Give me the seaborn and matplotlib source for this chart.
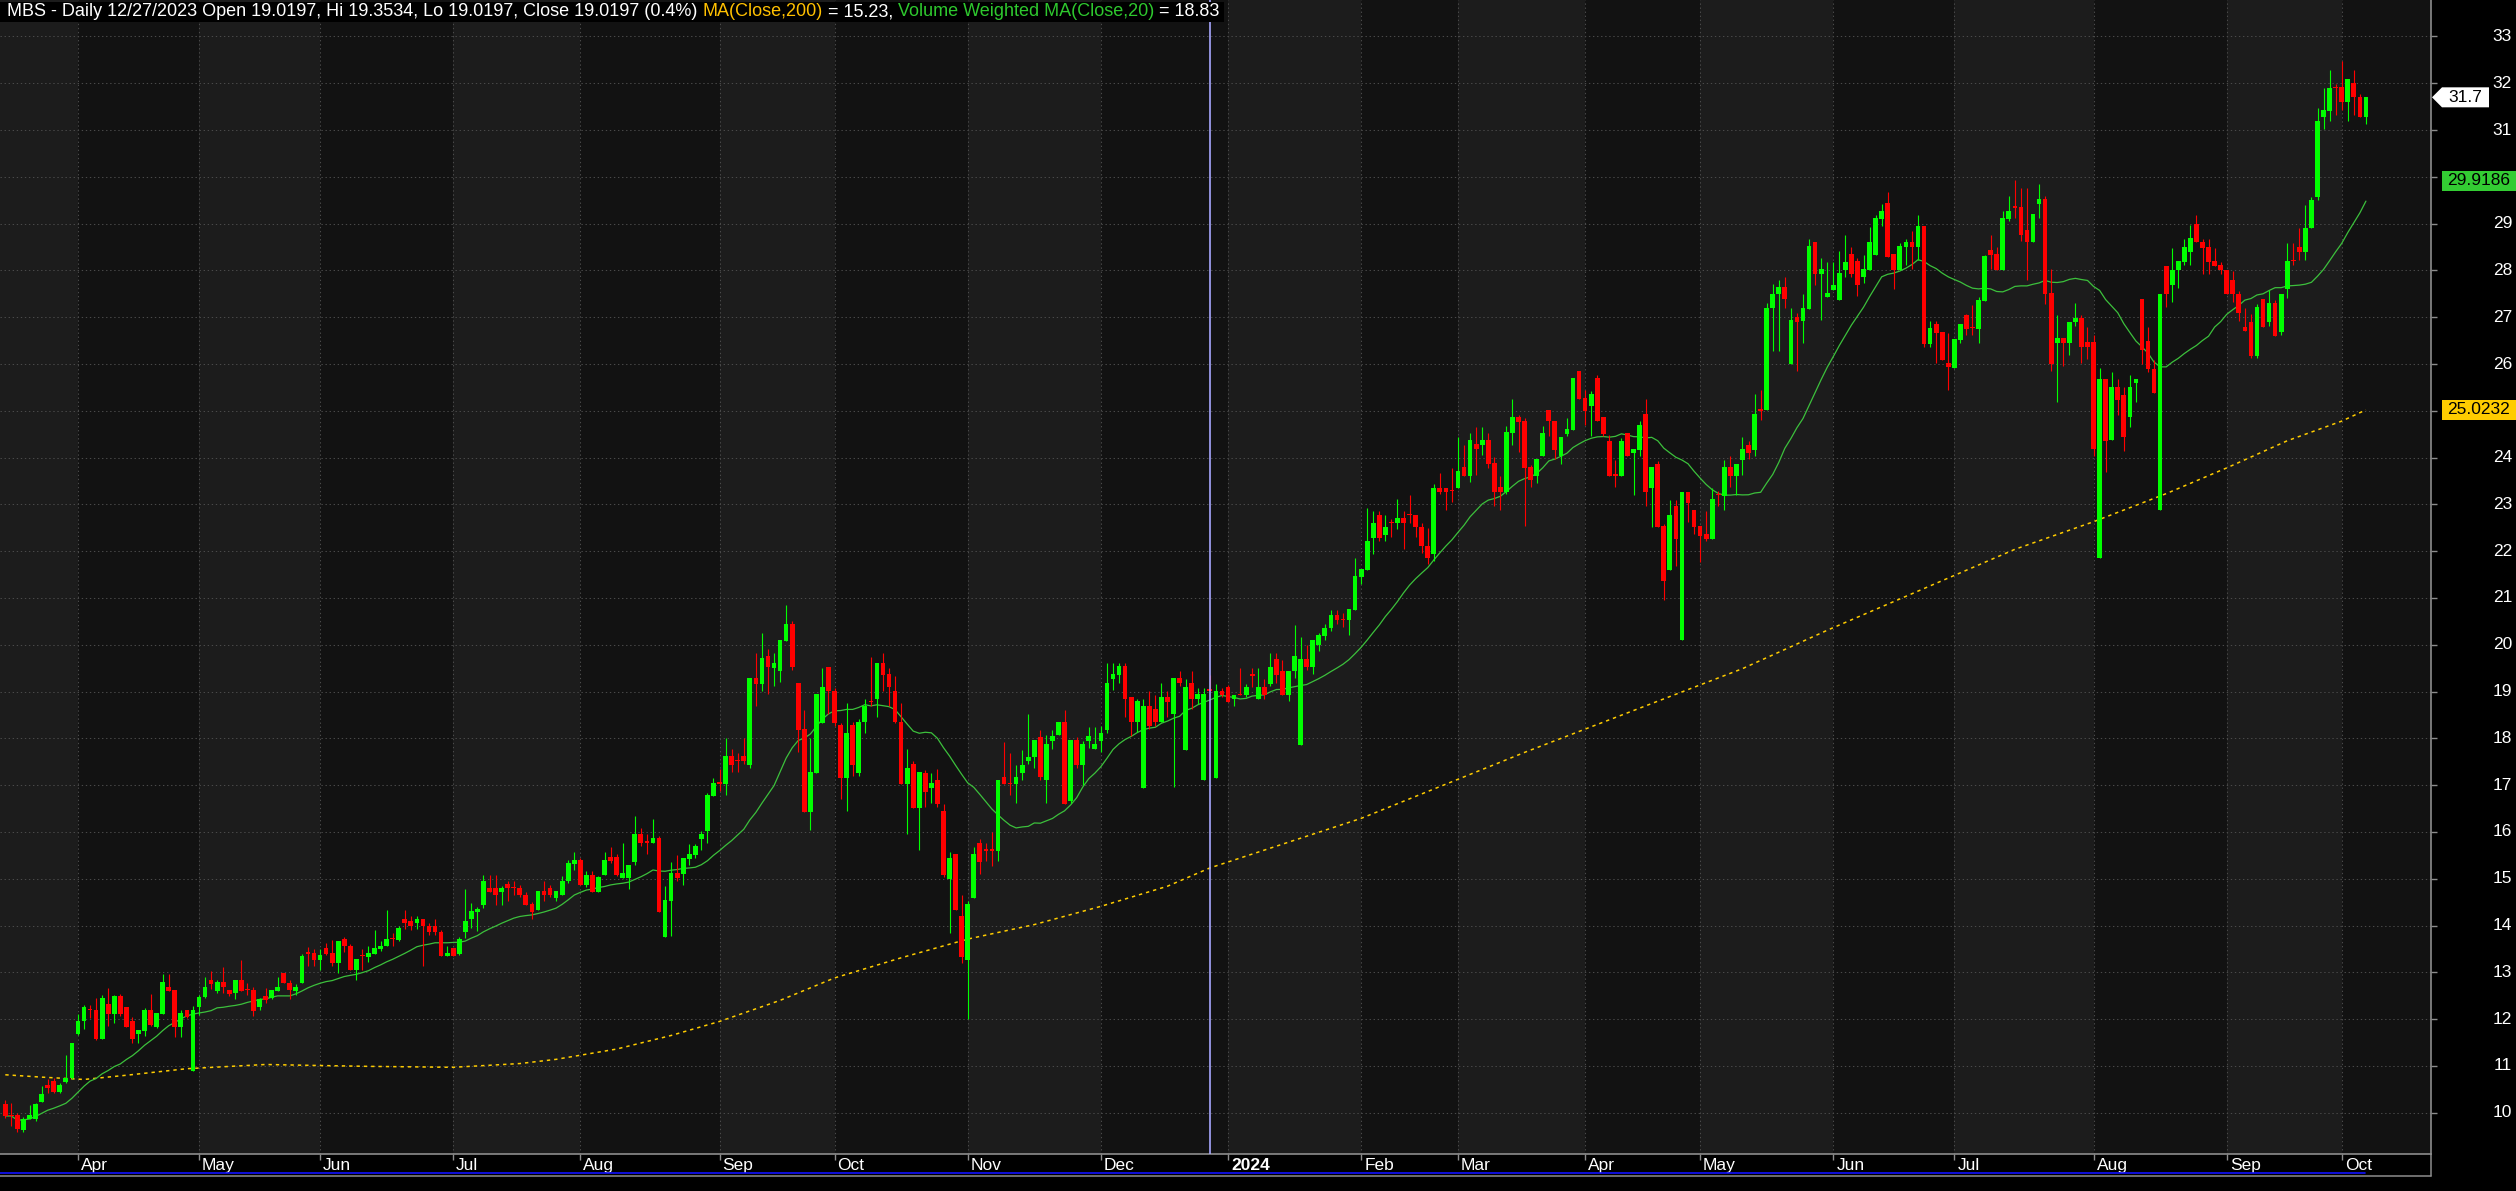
import numpy as np
import pandas as pd
import seaborn as sns
import matplotlib.pyplot as plt
from matplotlib.lines import Line2D
from matplotlib.patches import Rectangle, Polygon
from matplotlib.transforms import blended_transform_factory, offset_copy

W, H, DPI = 2516, 1191, 100

# daily OHLC, one value per bar (bar 0 = mid March 2023, bar 390 = early Oct 2024)
opens = [
    10.18, 9.95, 9.94, 9.64, 9.86, 9.86, 10.23, 10.60, 10.67, 10.44,
    10.65, 10.75, 11.68, 11.95, 12.20, 12.20, 11.58, 12.33, 12.10, 12.49,
    12.26, 11.97, 11.68, 11.74, 12.20, 11.83, 12.10, 12.69, 12.63, 11.83,
    12.20, 10.89, 12.25, 12.47, 12.84, 12.61, 12.79, 12.63, 12.56, 12.84,
    12.63, 12.63, 12.25, 12.49, 12.45, 12.61, 12.99, 12.77, 12.61, 12.77,
    13.41, 13.41, 13.27, 13.51, 13.42, 13.19, 13.72, 13.57, 13.04, 13.36,
    13.33, 13.40, 13.49, 13.56, 13.72, 13.70, 14.15, 14.09, 14.06, 14.15,
    13.99, 13.99, 13.87, 13.34, 13.51, 13.40, 13.86, 14.13, 14.29, 14.43,
    14.81, 14.81, 14.71, 14.88, 14.81, 14.81, 14.66, 14.45, 14.34, 14.73,
    14.81, 14.58, 14.65, 14.95, 15.31, 15.39, 14.86, 15.09, 14.71, 15.08,
    15.46, 15.46, 15.01, 15.01, 15.35, 15.95, 15.78, 15.76, 15.87, 13.76,
    14.53, 15.12, 15.10, 15.43, 15.50, 15.85, 16.02, 16.77, 17.04, 17.02,
    17.62, 17.52, 17.62, 17.43, 19.28, 19.17, 19.77, 19.51, 19.43, 20.09,
    20.45, 19.19, 18.19, 16.43, 17.25, 18.33, 19.53, 19.02, 18.28, 17.16,
    18.28, 17.25, 18.35, 18.79, 18.85, 19.61, 19.37, 19.02, 18.36, 17.02,
    17.45, 16.51, 17.27, 16.93, 17.12, 16.44, 15.00, 15.52, 14.20, 13.26,
    14.59, 15.77, 15.61, 15.61, 15.59, 17.18, 17.03, 17.02, 17.26, 17.51,
    17.60, 18.03, 17.10, 17.94, 18.08, 18.36, 16.67, 17.96, 17.43, 17.94,
    17.78, 17.94, 18.18, 19.26, 19.35, 19.55, 18.88, 18.35, 16.93, 18.70,
    18.62, 18.35, 18.88, 18.51, 19.28, 17.76, 19.19, 18.85, 17.11, 19.0197,
    17.16, 19.02, 19.10, 18.84, 18.93, 18.92, 19.35, 18.85, 19.10, 19.17,
    19.70, 19.45, 18.92, 19.43, 17.85, 19.70, 19.52, 20.00, 20.18, 20.35,
    20.63, 20.54, 20.53, 20.75, 21.45, 21.60, 22.28, 22.78, 22.34, 22.61,
    22.60, 22.70, 22.78, 22.78, 22.52, 22.12, 21.93, 23.36, 23.36, 23.29,
    23.35, 23.79, 23.61, 24.29, 24.27, 24.37, 23.88, 23.37, 23.27, 24.52,
    24.87, 24.79, 23.79, 23.60, 24.03, 25.02, 24.79, 24.03, 24.51, 24.60,
    25.86, 25.28, 25.10, 25.71, 24.87, 24.36, 23.62, 23.60, 24.53, 24.09,
    24.17, 24.94, 23.35, 23.87, 22.53, 21.59, 22.96, 20.10, 23.27, 22.87,
    22.53, 22.36, 22.27, 23.21, 23.19, 23.79, 23.60, 23.94, 24.28, 24.17,
    25.01, 25.01, 27.20, 27.50, 27.65, 26.01, 27.00, 26.93, 27.18, 28.61,
    27.93, 27.44, 27.59, 27.36, 28.01, 28.35, 28.21, 27.86, 28.01, 28.34,
    29.11, 29.44, 28.35, 28.01, 28.50, 28.61, 28.50, 28.96, 26.43, 26.86,
    26.69, 26.02, 25.92, 26.52, 27.04, 26.77, 26.75, 27.35, 28.44, 28.36,
    28.01, 29.11, 29.35, 29.36, 28.87, 28.60, 29.43, 29.53, 27.52, 26.46,
    26.55, 26.46, 26.89, 26.98, 26.47, 26.47, 21.85, 25.68, 24.37, 25.51,
    25.34, 24.87, 25.59, 27.40, 26.49, 25.89, 22.88, 28.10, 27.68, 28.00,
    28.19, 28.39, 29.00, 28.61, 28.51, 28.21, 28.11, 28.02, 27.80, 27.50,
    26.80, 26.90, 26.18, 27.40, 26.90, 27.30, 26.69, 27.60, 28.21, 28.51,
    28.39, 28.90, 29.58, 31.29, 31.40, 31.91, 31.91, 31.60, 32.01, 31.71,
    31.29,
]
highs = [
    10.28, 10.21, 10.00, 9.91, 10.16, 10.21, 10.58, 10.72, 10.75, 10.64,
    11.24, 11.48, 12.10, 12.31, 12.31, 12.45, 12.52, 12.67, 12.52, 12.54,
    12.26, 12.05, 11.76, 12.24, 12.54, 12.12, 12.97, 12.97, 12.63, 12.20,
    12.20, 12.29, 12.52, 12.90, 13.02, 12.84, 13.11, 12.63, 12.84, 13.27,
    12.77, 12.69, 12.46, 12.66, 12.63, 12.90, 12.99, 12.84, 12.74, 13.40,
    13.54, 13.49, 13.49, 13.63, 13.70, 13.66, 13.76, 13.60, 13.29, 13.49,
    13.56, 13.91, 13.66, 14.34, 13.84, 13.99, 14.34, 14.21, 14.21, 14.15,
    14.05, 14.13, 13.91, 13.56, 13.51, 13.76, 14.79, 14.49, 14.40, 15.07,
    15.07, 15.07, 14.85, 14.95, 14.95, 14.86, 14.71, 14.50, 14.73, 14.95,
    14.86, 14.73, 15.05, 15.39, 15.58, 15.44, 15.16, 15.16, 15.06, 15.58,
    15.67, 15.52, 15.76, 15.29, 16.34, 16.09, 15.96, 16.27, 15.92, 14.85,
    15.35, 15.50, 15.45, 15.75, 15.75, 16.01, 16.84, 17.16, 17.34, 18.01,
    17.77, 17.68, 18.01, 19.28, 19.83, 20.25, 19.91, 19.83, 20.11, 20.84,
    20.50, 19.19, 18.60, 18.01, 18.94, 19.51, 19.53, 19.08, 18.32, 18.76,
    18.34, 18.42, 18.85, 19.74, 19.61, 19.83, 19.51, 19.34, 18.76, 17.77,
    17.51, 17.28, 17.33, 17.25, 17.34, 16.59, 15.58, 15.52, 14.66, 14.52,
    15.67, 15.84, 15.76, 16.00, 17.12, 17.93, 17.68, 17.42, 17.76, 18.51,
    17.96, 18.17, 18.08, 18.17, 18.36, 18.60, 17.96, 18.03, 17.94, 18.25,
    18.25, 18.26, 19.60, 19.60, 19.60, 19.60, 18.88, 18.85, 18.85, 19.01,
    18.92, 19.18, 19.01, 19.28, 19.44, 19.26, 19.44, 19.08, 19.08, 19.3534,
    19.17, 19.08, 19.15, 18.92, 19.51, 19.17, 19.51, 19.51, 19.26, 19.83,
    19.83, 19.68, 19.45, 20.43, 20.17, 20.00, 20.11, 20.25, 20.45, 20.75,
    20.75, 20.67, 20.77, 21.85, 21.61, 22.93, 22.85, 22.85, 22.77, 22.68,
    23.11, 22.85, 23.20, 22.78, 22.60, 22.50, 23.43, 23.68, 23.36, 23.77,
    24.43, 24.27, 24.52, 24.65, 24.65, 24.52, 24.02, 23.61, 24.68, 25.25,
    24.92, 24.85, 23.85, 23.96, 24.68, 25.02, 24.79, 24.44, 24.85, 25.71,
    25.86, 25.44, 25.42, 25.77, 24.87, 24.49, 23.94, 24.42, 24.53, 24.19,
    24.78, 25.25, 23.79, 23.92, 22.59, 23.10, 23.10, 23.27, 23.27, 22.87,
    22.53, 22.85, 23.34, 23.28, 23.94, 24.03, 23.87, 24.43, 24.35, 25.35,
    25.44, 27.30, 27.70, 27.80, 27.85, 27.20, 27.10, 27.50, 28.68, 28.61,
    28.26, 28.19, 28.19, 28.42, 28.76, 28.50, 28.26, 28.34, 28.93, 29.19,
    29.43, 29.68, 28.35, 28.58, 28.68, 28.85, 29.19, 28.96, 26.91, 26.91,
    26.69, 26.67, 26.54, 26.86, 27.07, 27.27, 27.44, 28.34, 28.76, 28.50,
    29.26, 29.60, 29.94, 29.76, 29.76, 29.21, 29.85, 29.60, 28.03, 27.05,
    26.55, 26.89, 27.30, 27.05, 26.80, 26.62, 25.91, 25.68, 25.84, 25.68,
    25.50, 25.76, 25.68, 27.40, 26.79, 26.09, 27.50, 28.10, 28.48, 28.21,
    28.68, 28.98, 29.19, 28.68, 28.68, 28.49, 28.19, 28.02, 27.99, 27.57,
    27.19, 27.07, 27.28, 27.40, 27.58, 27.36, 27.50, 28.59, 28.59, 28.90,
    29.39, 29.58, 31.48, 31.89, 32.29, 31.99, 32.48, 32.10, 32.29, 31.78,
    31.71,
]
lows = [
    9.89, 9.72, 9.59, 9.59, 9.86, 9.82, 10.23, 10.41, 10.43, 10.41,
    10.64, 10.73, 11.65, 11.78, 12.03, 11.55, 11.58, 11.85, 11.92, 12.06,
    11.83, 11.49, 11.49, 11.63, 11.85, 11.81, 12.10, 12.60, 11.62, 11.62,
    12.03, 10.89, 12.08, 12.45, 12.64, 12.56, 12.56, 12.49, 12.42, 12.61,
    12.52, 12.06, 12.20, 12.35, 12.42, 12.61, 12.77, 12.42, 12.52, 12.77,
    13.14, 13.14, 13.06, 13.36, 13.14, 12.99, 13.43, 13.04, 12.84, 13.06,
    13.21, 13.40, 13.46, 13.56, 13.57, 13.66, 13.93, 13.91, 13.93, 13.14,
    13.79, 13.79, 13.34, 13.34, 13.34, 13.36, 13.74, 13.94, 13.88, 14.38,
    14.71, 14.44, 14.44, 14.52, 14.66, 14.62, 14.44, 14.15, 14.34, 14.52,
    14.62, 14.52, 14.65, 14.90, 15.19, 14.86, 14.83, 14.71, 14.71, 15.08,
    15.33, 15.06, 15.01, 14.78, 15.29, 15.71, 15.52, 15.76, 14.28, 13.76,
    13.78, 14.96, 14.86, 15.29, 15.45, 15.61, 15.77, 16.77, 16.88, 16.78,
    17.28, 17.28, 17.46, 17.36, 18.70, 19.02, 18.94, 19.12, 19.20, 20.09,
    19.46, 17.71, 16.43, 16.04, 17.25, 18.33, 18.51, 18.26, 16.70, 16.45,
    17.20, 17.20, 18.11, 18.70, 18.46, 19.02, 18.70, 18.33, 17.02, 15.95,
    16.51, 15.62, 16.53, 16.61, 16.53, 15.04, 13.85, 14.34, 13.20, 12.00,
    14.59, 15.11, 15.38, 15.28, 15.37, 17.02, 16.79, 16.61, 17.12, 17.46,
    17.36, 17.12, 16.62, 17.78, 18.08, 16.59, 16.62, 17.36, 17.01, 17.80,
    17.78, 17.71, 18.12, 19.03, 19.19, 18.46, 18.05, 18.13, 16.93, 18.19,
    18.26, 18.35, 18.46, 16.96, 19.12, 17.76, 18.62, 18.73, 17.11, 19.0197,
    17.16, 18.88, 18.77, 18.70, 18.92, 18.88, 19.10, 18.85, 18.84, 19.11,
    19.18, 18.92, 18.79, 19.29, 17.85, 19.47, 19.38, 19.86, 20.11, 20.29,
    20.45, 20.38, 20.20, 20.75, 21.29, 21.60, 21.95, 22.22, 22.22, 22.31,
    22.47, 22.05, 22.61, 22.31, 21.97, 21.72, 21.79, 23.22, 22.88, 23.05,
    23.35, 23.61, 23.47, 23.62, 24.05, 23.77, 22.97, 22.88, 23.22, 24.28,
    24.11, 22.53, 23.37, 23.46, 24.03, 24.46, 23.96, 23.87, 24.46, 24.60,
    25.26, 24.70, 24.46, 24.78, 24.46, 23.60, 23.37, 23.60, 24.03, 23.21,
    24.04, 22.96, 22.52, 22.51, 20.95, 21.59, 21.69, 20.10, 22.62, 22.36,
    21.77, 22.21, 22.27, 22.96, 22.88, 23.37, 23.21, 23.62, 23.97, 24.04,
    24.80, 25.01, 26.28, 26.28, 27.20, 26.01, 25.86, 26.46, 27.18, 27.69,
    26.94, 27.44, 27.59, 27.36, 27.87, 27.87, 27.46, 27.73, 28.01, 28.34,
    28.96, 28.28, 27.61, 28.01, 28.12, 28.03, 28.23, 26.37, 26.37, 26.03,
    26.09, 25.45, 25.92, 26.46, 26.62, 26.62, 26.46, 27.35, 28.03, 28.01,
    28.01, 29.05, 29.12, 28.62, 27.80, 28.60, 29.12, 27.29, 25.86, 25.18,
    25.95, 26.20, 26.82, 26.03, 26.10, 24.03, 21.85, 23.70, 24.37, 24.91,
    24.14, 24.65, 25.19, 26.01, 25.83, 25.39, 22.88, 27.21, 27.32, 27.62,
    28.11, 28.11, 28.61, 27.93, 27.93, 28.09, 27.93, 27.49, 27.32, 26.91,
    26.70, 26.12, 26.12, 26.79, 26.81, 26.60, 26.62, 27.41, 28.11, 28.22,
    28.22, 28.90, 29.51, 31.02, 31.20, 31.32, 31.43, 31.20, 31.32, 31.29,
    31.12,
]
closes = [
    9.93, 9.93, 9.66, 9.87, 9.94, 10.18, 10.39, 10.52, 10.44, 10.60,
    10.75, 11.48, 11.97, 12.26, 12.19, 11.58, 12.45, 12.10, 12.49, 12.10,
    11.83, 11.58, 11.76, 12.20, 11.88, 12.12, 12.79, 12.61, 11.83, 12.12,
    12.05, 12.20, 12.47, 12.69, 12.76, 12.79, 12.69, 12.54, 12.84, 12.61,
    12.62, 12.18, 12.42, 12.40, 12.63, 12.69, 12.77, 12.62, 12.69, 13.35,
    13.40, 13.27, 13.36, 13.40, 13.19, 13.66, 13.56, 13.04, 13.29, 13.35,
    13.42, 13.51, 13.57, 13.72, 13.71, 13.94, 14.06, 13.99, 14.15, 13.99,
    13.86, 13.86, 13.34, 13.42, 13.34, 13.72, 14.09, 14.30, 14.36, 14.96,
    14.71, 14.65, 14.81, 14.80, 14.80, 14.65, 14.44, 14.29, 14.73, 14.65,
    14.65, 14.73, 14.96, 15.34, 15.39, 14.86, 15.09, 14.71, 15.03, 15.39,
    15.38, 15.07, 15.12, 15.29, 15.95, 15.76, 15.77, 15.87, 14.28, 14.54,
    15.12, 15.01, 15.45, 15.52, 15.70, 15.95, 16.78, 17.04, 17.03, 17.62,
    17.43, 17.51, 17.52, 19.28, 19.17, 19.71, 19.52, 19.62, 20.11, 20.45,
    19.52, 18.18, 16.43, 17.28, 18.94, 19.10, 19.01, 18.33, 17.16, 18.11,
    17.42, 18.36, 18.70, 18.77, 19.61, 19.35, 19.10, 18.35, 17.02, 17.36,
    16.51, 17.28, 16.85, 17.04, 16.59, 15.09, 15.45, 14.34, 13.33, 14.45,
    15.52, 15.35, 15.60, 15.60, 17.12, 17.02, 17.02, 17.18, 17.44, 17.61,
    17.96, 17.17, 17.87, 18.05, 18.36, 16.59, 17.96, 17.43, 17.87, 18.05,
    17.87, 18.11, 19.19, 19.37, 19.55, 18.85, 18.35, 18.80, 18.70, 18.26,
    18.35, 18.88, 18.78, 19.28, 19.19, 19.10, 18.85, 18.94, 18.94, 19.0197,
    19.02, 18.92, 18.77, 18.92, 18.92, 19.10, 19.34, 19.10, 18.92, 19.53,
    19.36, 18.92, 19.45, 19.77, 19.70, 19.52, 20.11, 20.20, 20.36, 20.63,
    20.53, 20.53, 20.77, 21.47, 21.61, 22.21, 22.61, 22.28, 22.52, 22.60,
    22.70, 22.60, 22.77, 22.52, 22.11, 21.85, 23.36, 23.27, 23.27, 23.28,
    23.71, 23.61, 24.37, 24.18, 24.37, 23.86, 23.27, 23.27, 24.55, 24.87,
    24.77, 23.77, 23.52, 23.96, 24.53, 24.78, 24.17, 24.44, 24.61, 25.71,
    25.26, 25.00, 25.37, 24.78, 24.51, 23.60, 23.61, 24.36, 24.03, 24.19,
    24.70, 23.26, 23.79, 22.51, 21.36, 22.78, 22.27, 23.27, 23.02, 22.51,
    22.33, 22.27, 23.12, 23.20, 23.79, 23.60, 23.87, 24.19, 24.09, 24.94,
    25.00, 27.20, 27.50, 27.65, 27.40, 26.95, 26.90, 27.20, 28.53, 27.93,
    28.04, 27.51, 27.69, 27.94, 28.19, 27.93, 27.68, 28.03, 28.61, 29.13,
    29.28, 28.28, 28.01, 28.53, 28.61, 28.51, 28.96, 26.43, 26.77, 26.67,
    26.09, 25.93, 26.54, 26.86, 26.75, 26.76, 27.37, 28.30, 28.34, 28.01,
    29.13, 29.28, 29.34, 28.76, 28.60, 29.21, 29.53, 27.50, 26.00, 26.55,
    26.46, 26.89, 26.98, 26.36, 26.36, 24.19, 25.68, 24.36, 25.51, 25.24,
    24.45, 25.51, 25.68, 26.29, 25.89, 25.39, 27.50, 27.49, 28.01, 28.21,
    28.51, 28.70, 28.61, 28.49, 28.19, 28.09, 28.00, 27.49, 27.49, 27.08,
    26.70, 26.18, 27.21, 26.79, 27.30, 26.60, 27.50, 28.21, 28.20, 28.39,
    28.91, 29.51, 31.20, 31.42, 31.90, 31.90, 31.60, 32.10, 31.71, 31.29,
    31.71,
]

# first bar of every month and its axis label
month_starts = [12, 32, 52, 74, 95, 118, 137, 159, 181, 202, 224, 240,
                261, 280, 302, 322, 345, 367, 386]
month_labels = ["Apr", "May", "Jun", "Jul", "Aug", "Sep", "Oct", "Nov", "Dec",
                "2024", "Feb", "Mar", "Apr", "May", "Jun", "Jul", "Aug", "Sep", "Oct"]

# MA(Close,200)
ma200_bars = [0, 6, 13, 20, 30, 43, 51, 60, 74, 85, 91, 101, 110, 118, 128, 137,
              148, 159, 170, 181, 192, 199, 224, 251, 287, 301, 332, 345, 357,
              367, 377, 386, 390]
ma200_vals = [10.81, 10.76, 10.71, 10.80, 10.94, 11.03, 11.01, 10.99, 10.97, 11.05,
              11.14, 11.36, 11.65, 11.95, 12.40, 12.88, 13.31, 13.71, 14.02, 14.41,
              14.84, 15.23, 16.29, 17.70, 19.49, 20.31, 22.04, 22.63, 23.23, 23.78,
              24.36, 24.78, 25.02]

title_parts = [
    ("MBS - Daily 12/27/2023 Open 19.0197, Hi 19.3534, Lo 19.0197, Close 19.0197 (0.4%) ", "white"),
    ("MA(Close,200)", "#ffc000"),
    (" = 15.23, ", "white"),
    ("Volume Weighted MA(Close,20)", "#2ec82e"),
    (" = 18.83", "white"),
]
last_values = [("31.7", 31.7, "white"), ("29.9186", 29.9186, "#33cc33"), ("25.0232", 25.0232, "#ffcc00")]
cursor_bar = 199

sns.set_theme(style="dark")
plt.rcParams["font.family"] = ["Liberation Sans", "DejaVu Sans"]

df = pd.DataFrame({"o": opens, "h": highs, "l": lows, "c": closes})
df["bar"] = np.arange(len(df))
df["vwma"] = df["c"].rolling(20, min_periods=1).mean()
colors = np.where(df["c"] > df["o"], "#00ff00", "#ff0000")

fig = plt.figure(figsize=(W / DPI, H / DPI), dpi=DPI, facecolor="black")
ax = fig.add_axes([0, 37 / H, 2431 / W, 1154 / H])
x0, x1 = -0.876, 400.75
ax.set_xlim(x0, x1)
ax.set_ylim(9.117, 33.78)
ax.set_facecolor("#121212")

# alternating month bands
edges = [x0] + month_starts + [x1]
for k in range(len(edges) - 1):
    if k % 2 == 0:
        ax.axvspan(edges[k], edges[k + 1], color="#1c1c1c", lw=0, zorder=0)

grid_kw = dict(color="#4a4a4a", lw=0.75, dashes=(1.3, 2.6), zorder=1)
for p in range(10, 34):
    ax.axhline(p, **grid_kw)
for s in month_starts:
    ax.axvline(s, **grid_kw)

# moving averages
sns.lineplot(x=ma200_bars, y=ma200_vals, color="#ffcc00", lw=1.1, ax=ax, zorder=2)
ax.lines[-1].set_dashes((2.2, 2.6))
sns.lineplot(data=df, x="bar", y="vwma", color="#3cc03c", lw=0.9, ax=ax, zorder=2)

# candles
ax.vlines(df["bar"], df["l"], df["h"], colors=colors, lw=0.8, zorder=3)
body = np.maximum((df["c"] - df["o"]).abs(), 0.03)
ax.bar(df["bar"], body, bottom=np.minimum(df["o"], df["c"]), width=0.78,
       color=colors, lw=0, zorder=4)

ax.axvline(cursor_bar, color="#a8a8ff", lw=1.2, zorder=5)

for s in ["top", "left"]:
    ax.spines[s].set_visible(False)
for s in ["right", "bottom"]:
    ax.spines[s].set_color("#8c8c8c")
    ax.spines[s].set_linewidth(1.2)
ax.set_xlabel("")
ax.set_ylabel("")
ax.grid(False)
ax.set_xticks(month_starts)
ax.set_xticklabels([])
ax.yaxis.tick_right()
ax.set_yticks(range(10, 34))
ax.set_yticklabels([])
ax.tick_params(axis="x", bottom=True, length=4, width=1, color="#8c8c8c", direction="out")
ax.tick_params(axis="y", right=True, left=False, length=4, width=1, color="#8c8c8c", direction="out")

# price labels on the right (the coloured value boxes hide the ones beneath them)
tr = blended_transform_factory(fig.transFigure, ax.transData)
boxed = [v for _, v, col in last_values if col != "white"]
for p in range(10, 34):
    if any(abs(p - v) < 0.4 for v in boxed):
        continue
    ax.text(2512 / W, p, str(p), transform=tr, ha="right", va="center",
            color="white", fontsize=12.5)

hh = 10 / 46.79
for txt, v, col in last_values:
    if col == "white":
        pts = [(2432 / W, v), (2442 / W, v + hh), (2489 / W, v + hh), (2489 / W, v - hh), (2442 / W, v - hh)]
        xc = 2465 / W
    else:
        pts = [(2442 / W, v + hh), (2516 / W, v + hh), (2516 / W, v - hh), (2442 / W, v - hh)]
        xc = 2479 / W
    poly = Polygon(pts, closed=True, transform=tr, facecolor=col, edgecolor="none", zorder=8)
    poly.set_clip_on(False)
    ax.add_patch(poly)
    ax.text(xc, v, txt, transform=tr, ha="center", va="center", color="black",
            fontsize=12.5, zorder=9)

# month labels under the axis
trx = blended_transform_factory(ax.transData, fig.transFigure)
trx = offset_copy(trx, fig=fig, x=3, y=0, units="dots")
for s, lab in zip(month_starts, month_labels):
    ax.text(s, 1 - 1170 / H, lab, transform=trx, ha="left", va="baseline",
            color="white", fontsize=12.5, fontweight="bold" if lab == "2024" else "normal")

fig.add_artist(Line2D([0, 2365 / W], [1 - 1173 / H] * 2, color="#1010ff", lw=1.2))
fig.add_artist(Line2D([0, 2431 / W], [1 - 1175.5 / H] * 2, color="#8c8c8c", lw=1.1))
fig.add_artist(Line2D([2431 / W] * 2, [1 - 1154 / H, 1 - 1175.5 / H], color="#8c8c8c", lw=1.1))

# multi-coloured title with black backing
r = fig.canvas.get_renderer()
probe = fig.text(0, 0, "".join(p for p, _ in title_parts), fontsize=10)
fs = 10 * 1209 / probe.get_window_extent(r).width
probe.remove()
xpos = 7
for s, col in title_parts:
    t = fig.text(xpos / W, 1 - 12 / H, s, color=col, fontsize=fs, ha="left", va="center", zorder=11)
    xpos += t.get_window_extent(r).width
fig.add_artist(Rectangle((0, 1 - 22 / H), (xpos + 4) / W, 20 / H, transform=fig.transFigure,
                         facecolor="black", edgecolor="none", zorder=10))

fig.savefig("out.png", dpi=DPI, facecolor="black")
